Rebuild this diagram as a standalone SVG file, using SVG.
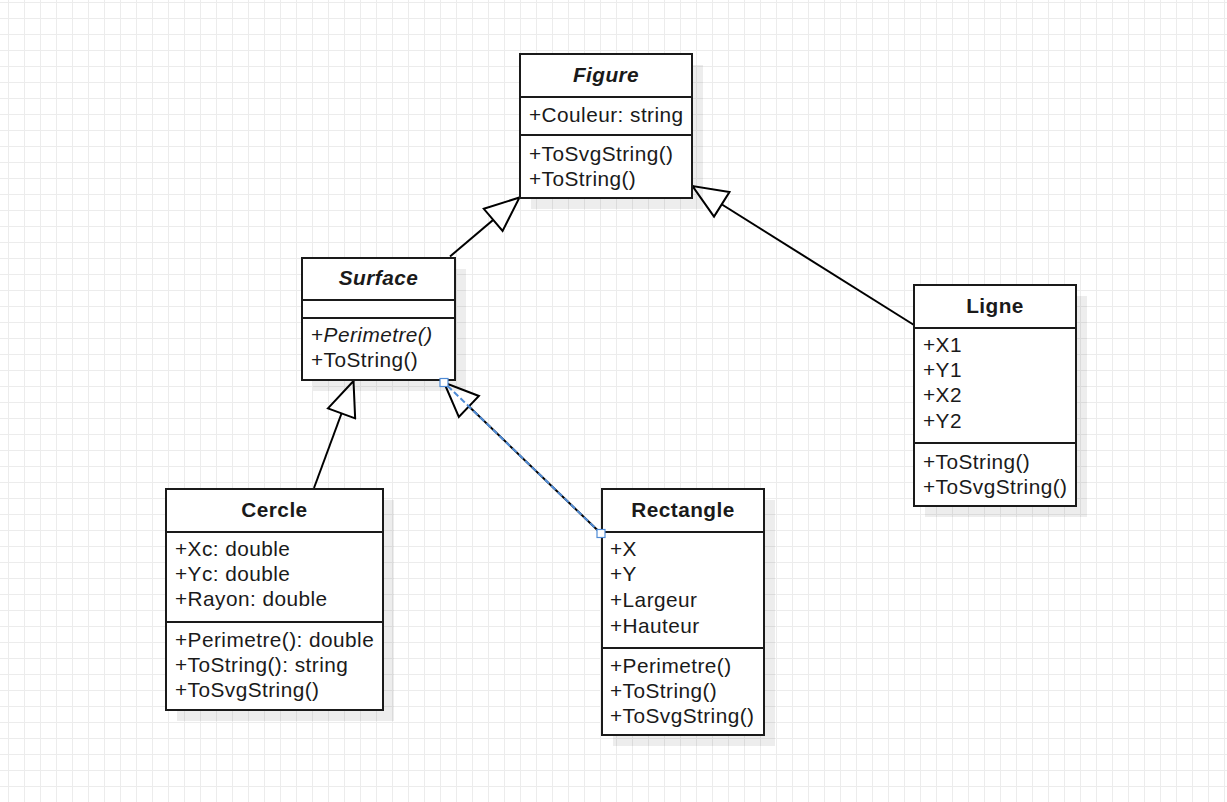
<svg xmlns="http://www.w3.org/2000/svg" width="1227" height="802" viewBox="0 0 1227 802">
<style>
  text { font-family: "Liberation Sans", Arial, sans-serif; font-size: 20.8px; letter-spacing: 0.45px; fill: #1a1a1a; }
  .title { font-weight: bold; text-anchor: middle; }
  .it { font-style: italic; }
  .box { fill: #ffffff; stroke: #1a1a1a; stroke-width: 2; }
  .shadow { fill: #000000; fill-opacity: 0.07; }
  .sep { stroke: #1a1a1a; stroke-width: 2; }
  .edge { fill: none; stroke: #000000; stroke-width: 2; marker-end: url(#inherit); }
  .sel { fill: none; stroke: #4f8bd6; stroke-width: 2; stroke-dasharray: 6 3; }
  .handle { fill: #ffffff; stroke: #4f8bd6; stroke-width: 1.2; }
</style>
<defs>
  <pattern id="grid" x="8" y="2" width="16" height="16" patternUnits="userSpaceOnUse">
    <path d="M0 0.5 H16 M0.5 0 V16" fill="none" stroke="#ececec" stroke-width="1"/>
  </pattern>
  <marker id="inherit" viewBox="0 0 38 32" refX="36" refY="16" markerWidth="38" markerHeight="32" markerUnits="userSpaceOnUse" orient="auto">
    <path d="M1.5,1.5 L36,16 L1.5,30.5 Z" fill="#ffffff" stroke="#000000" stroke-width="2" stroke-linejoin="miter"/>
  </marker>
</defs>
<rect width="1227" height="802" fill="#ffffff"/>
<rect width="1227" height="802" fill="url(#grid)"/>

<g id="connectors">
  <line class="edge" x1="450" y1="256.5" x2="519.5" y2="197.5"/>
  <line class="edge" x1="914" y1="325" x2="692.5" y2="186"/>
  <line class="edge" x1="314" y1="488" x2="353.5" y2="381"/>
  <line class="edge" x1="601" y1="533.5" x2="444" y2="382.5"/>
</g>

<g id="node-figure">
  <rect class="shadow" x="531" y="65" width="172" height="144"/>
  <rect class="box" x="520" y="54" width="172" height="144"/>
  <line class="sep" x1="520" y1="97" x2="692" y2="97"/>
  <line class="sep" x1="520" y1="135" x2="692" y2="135"/>
  <text class="title it" x="606" y="82">Figure</text>
  <text x="529" y="122">+Couleur: string</text>
  <text x="529" y="160.5">+ToSvgString()</text>
  <text x="529" y="186">+ToString()</text>
</g>

<g id="node-surface">
  <rect class="shadow" x="313" y="269" width="153" height="122"/>
  <rect class="box" x="302" y="258" width="153" height="122"/>
  <line class="sep" x1="302" y1="300" x2="455" y2="300"/>
  <line class="sep" x1="302" y1="318" x2="455" y2="318"/>
  <text class="title it" x="378.5" y="285">Surface</text>
  <text x="311" y="342">+<tspan class="it">Perimetre()</tspan></text>
  <text x="311" y="367">+ToString()</text>
</g>

<g id="node-cercle">
  <rect class="shadow" x="177" y="500" width="217" height="221"/>
  <rect class="box" x="166" y="489" width="217" height="221"/>
  <line class="sep" x1="166" y1="532" x2="383" y2="532"/>
  <line class="sep" x1="166" y1="622" x2="383" y2="622"/>
  <text class="title" x="274.5" y="517">Cercle</text>
  <text x="175" y="556">+Xc: double</text>
  <text x="175" y="581">+Yc: double</text>
  <text x="175" y="606">+Rayon: double</text>
  <text x="175" y="647">+Perimetre(): double</text>
  <text x="175" y="672">+ToString(): string</text>
  <text x="175" y="697">+ToSvgString()</text>
</g>

<g id="node-rectangle">
  <rect class="shadow" x="613" y="500" width="162" height="246"/>
  <rect class="box" x="602" y="489" width="162" height="246"/>
  <line class="sep" x1="602" y1="532" x2="764" y2="532"/>
  <line class="sep" x1="602" y1="648" x2="764" y2="648"/>
  <text class="title" x="683" y="517">Rectangle</text>
  <text x="610" y="556">+X</text>
  <text x="610" y="581">+Y</text>
  <text x="610" y="607">+Largeur</text>
  <text x="610" y="632.5">+Hauteur</text>
  <text x="610" y="672.5">+Perimetre()</text>
  <text x="610" y="698">+ToString()</text>
  <text x="610" y="722.5">+ToSvgString()</text>
</g>

<g id="node-ligne">
  <rect class="shadow" x="925" y="296" width="162" height="221"/>
  <rect class="box" x="914" y="285" width="162" height="221"/>
  <line class="sep" x1="914" y1="328" x2="1076" y2="328"/>
  <line class="sep" x1="914" y1="443" x2="1076" y2="443"/>
  <text class="title" x="995" y="313">Ligne</text>
  <text x="923" y="352">+X1</text>
  <text x="923" y="377">+Y1</text>
  <text x="923" y="402">+X2</text>
  <text x="923" y="428">+Y2</text>
  <text x="923" y="468.5">+ToString()</text>
  <text x="923" y="493.5">+ToSvgString()</text>
</g>

<g id="selection">
  <line class="sel" x1="601" y1="533.5" x2="444" y2="382.5"/>
  <rect class="handle" x="440" y="378.5" width="8" height="8"/>
  <rect class="handle" x="597" y="529.5" width="8" height="8"/>
</g>
</svg>
